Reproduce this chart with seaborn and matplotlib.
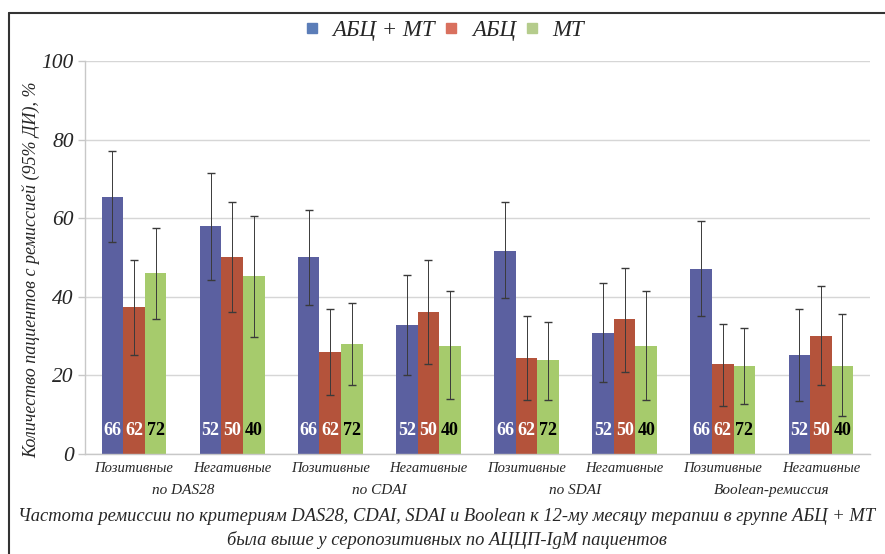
import matplotlib
matplotlib.use("Agg")
import matplotlib.pyplot as plt
from matplotlib.lines import Line2D
import seaborn as sns
import pandas as pd
import numpy as np

categories = ["Позитивные", "Негативные", "Позитивные", "Негативные",
              "Позитивные", "Негативные", "Позитивные", "Негативные"]
group_labels = ["по DAS28", "по CDAI", "по SDAI", "Boolean-ремиссия"]
series = ["АБЦ + МТ", "АБЦ", "МТ"]

abc_mt = [65.3, 58.0, 50.2, 32.8, 51.7, 30.9, 47.0, 25.2]
abc = [37.3, 50.2, 26.0, 36.2, 24.5, 34.4, 22.8, 30.1]
mt = [46.0, 45.3, 28.0, 27.6, 23.9, 27.6, 22.5, 22.5]

abc_mt_lo = [54.0, 44.4, 37.9, 20.1, 39.6, 18.2, 35.2, 13.5]
abc_mt_hi = [77.0, 71.4, 62.0, 45.5, 64.0, 43.6, 59.4, 36.9]
abc_lo = [25.2, 36.2, 15.0, 23.0, 13.7, 20.9, 12.3, 17.6]
abc_hi = [49.4, 64.2, 36.9, 49.4, 35.2, 47.4, 33.2, 42.8]
mt_lo = [34.4, 29.7, 17.6, 14.0, 13.7, 13.7, 12.7, 9.7]
mt_hi = [57.6, 60.6, 38.3, 41.5, 33.5, 41.5, 32.1, 35.6]

n_pos = ["66", "62", "72"]
n_neg = ["52", "50", "40"]

bar_colors = ["#5B60A0", "#B4533B", "#A6CB6C"]
legend_colors = ["#5B7DB8", "#D9705E", "#B5CC8C"]

values = [abc_mt, abc, mt]
lows = [abc_mt_lo, abc_lo, mt_lo]
highs = [abc_mt_hi, abc_hi, mt_hi]

rows = []
for s, vals in zip(series, values):
    for i, v in enumerate(vals):
        rows.append({"pos": i, "series": s, "value": v})
df = pd.DataFrame(rows)

sns.set_theme(style="white")
plt.rcParams["font.family"] = ["Liberation Serif", "DejaVu Serif"]

fig = plt.figure(figsize=(8.85, 5.54), dpi=100)
ax = fig.add_axes([0.096, 0.1805, 0.887, 0.7094])

sns.barplot(data=df, x="pos", y="value", hue="series", hue_order=series,
            palette=bar_colors, width=0.66, ax=ax, legend=False,
            errorbar=None, saturation=1, linewidth=0, edgecolor="none")

bar_containers = list(ax.containers)
for k, cont in enumerate(bar_containers):
    for i, p in enumerate(cont.patches):
        cx = p.get_x() + p.get_width() / 2
        v = values[k][i]
        ax.errorbar(cx, v, yerr=[[v - lows[k][i]], [highs[k][i] - v]],
                    fmt="none", ecolor="#3a3a3a", elinewidth=0.7,
                    capsize=3, capthick=1.0, zorder=5)
        lab = (n_pos if i % 2 == 0 else n_neg)[k]
        ax.text(cx, 6.0, lab, ha="center", va="center", fontsize=13,
                fontweight="bold", color="black" if k == 2 else "white",
                zorder=6)

ax.set_ylim(0, 100)
ax.set_xlim(-0.5, 7.5)
ax.set_yticks([0, 20, 40, 60, 80, 100])
ax.set_yticklabels(["0", "20", "40", "60", "80", "100"], fontsize=15.5,
                   fontstyle="italic")
ax.yaxis.grid(True, color="#D6D6D6", linewidth=1.0)
ax.set_axisbelow(True)
ax.set_xticks(range(8))
ax.set_xticklabels(categories, fontsize=10.5, fontstyle="italic")
ax.set_xticks(np.arange(-0.5, 8.0, 1.0), minor=True)
ax.tick_params(axis="x", which="major", length=0, pad=6)
ax.tick_params(axis="x", which="minor", length=5, color="#C8C8C8", width=1,
               direction="out")
ax.tick_params(axis="y", length=5, color="#C8C8C8", width=1, pad=3,
               direction="out", left=True)
ax.set_xlabel("")
ax.set_ylabel("Количество пациентов с ремиссией (95% ДИ), %", fontsize=13,
              fontstyle="italic")
ax.yaxis.set_label_coords(-0.057, 0.47)
for side in ["top", "right"]:
    ax.spines[side].set_visible(False)
for side in ["left", "bottom"]:
    ax.spines[side].set_color("#C8C8C8")
    ax.spines[side].set_linewidth(1)

for j, g in enumerate(group_labels):
    ax.text(2 * j + 0.5, -0.094, g, transform=ax.get_xaxis_transform(),
            ha="center", va="center", fontsize=11, fontstyle="italic")

fig.text(0.505, 0.067,
         "Частота ремиссии по критериям DAS28, CDAI, SDAI и Boolean к 12-му месяцу терапии в группе АБЦ + МТ",
         ha="center", va="center", fontsize=13.3, fontstyle="italic")
fig.text(0.505, 0.026, "была выше у серопозитивных по АЦЦП-IgM пациентов",
         ha="center", va="center", fontsize=13.3, fontstyle="italic")

handles = [Line2D([0], [0], marker="s", linestyle="none", markersize=7,
                  markerfacecolor=c, markeredgecolor=c) for c in legend_colors]
fig.legend(handles, series, loc="center", bbox_to_anchor=(0.500, 0.945),
           ncol=3, frameon=False, prop={"size": 16.5, "style": "italic"},
           handletextpad=0.4, columnspacing=0.2, handlelength=1.0)

fig.add_artist(Line2D([0.0102, 0.0102], [0.0, 0.9765], color="#333333",
                      linewidth=1.5, transform=fig.transFigure))
fig.add_artist(Line2D([0.0102, 1.0], [0.9765, 0.9765], color="#333333",
                      linewidth=1.5, transform=fig.transFigure))

fig.savefig("out.png", dpi=100, facecolor="white")
